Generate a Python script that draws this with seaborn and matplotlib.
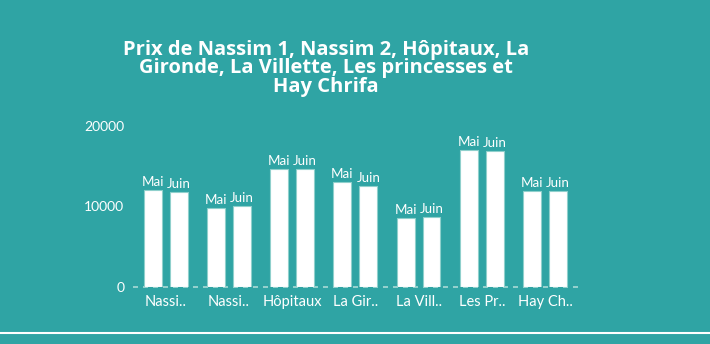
import matplotlib
matplotlib.use("Agg")
import matplotlib.pyplot as plt
import seaborn as sns
import pandas as pd

categories = ["Nassim 1", "Nassim 2", "Hôpitaux", "La Gironde", "La Villette", "Les princesses", "Hay Chrifa"]
tick_labels = ["Nassi..", "Nassi..", "Hôpitaux", "La Gir..", "La Vill..", "Les Pr..", "Hay Ch.."]
mai = [12000, 9800, 14600, 13000, 8600, 17000, 11900]
juin = [11800, 10000, 14600, 12500, 8700, 16900, 11900]
series = ["Mai", "Juin"]
yticks = [0, 10000, 20000]
title = "Prix de Nassim 1, Nassim 2, Hôpitaux, La\nGironde, La Villette, Les princesses et\nHay Chrifa"

BG = "#2FA4A4"

df = pd.DataFrame({
    "cat": categories * 2,
    "mois": ["Mai"] * len(mai) + ["Juin"] * len(juin),
    "val": mai + juin,
})

sns.set_theme(style="white")
plt.rcParams["font.family"] = ["Lato", "DejaVu Sans"]

fig = plt.figure(figsize=(7.1, 3.44), dpi=100)
fig.patch.set_facecolor(BG)
ax = fig.add_axes([0.187, 0.166, 0.627, 0.468])
ax.set_facecolor(BG)

sns.barplot(data=df, x="cat", y="val", hue="mois", hue_order=series, order=categories,
            palette={"Mai": "white", "Juin": "white"}, width=0.82, gap=0.31,
            edgecolor="#8fd0cc", linewidth=0.8, legend=False, ax=ax, errorbar=None)

for cont, name in zip(ax.containers, series):
    ax.bar_label(cont, labels=[name] * len(cont), color="white", fontsize=9.6, padding=1.5)

ax.set_ylim(0, 20000)
ax.set_xlim(-0.52, 6.52)
ax.set_yticks(yticks)
ax.set_yticklabels([str(v) for v in yticks], color="white", fontsize=10)
ax.set_xticks(range(len(categories)))
ax.set_xticklabels(tick_labels, color="white", fontsize=10.5)
ax.tick_params(axis="both", length=0, pad=6)
ax.set_xlabel("")
ax.set_ylabel("")
for s in ax.spines.values():
    s.set_visible(False)
ax.axhline(0, color="#a9d9d6", linestyle=(0, (3, 3)), linewidth=1.2, clip_on=False, zorder=0)

fig.text(0.459, 0.885, title, ha="center", va="top", color="white", fontsize=14.5,
         fontweight="bold", family=["Open Sans", "DejaVu Sans"], linespacing=0.9)

fig.add_artist(plt.Line2D([0, 1], [1 - 333 / 344, 1 - 333 / 344], color="white", linewidth=1.5,
                          transform=fig.transFigure))

fig.savefig("out.png", dpi=100, facecolor=BG)
